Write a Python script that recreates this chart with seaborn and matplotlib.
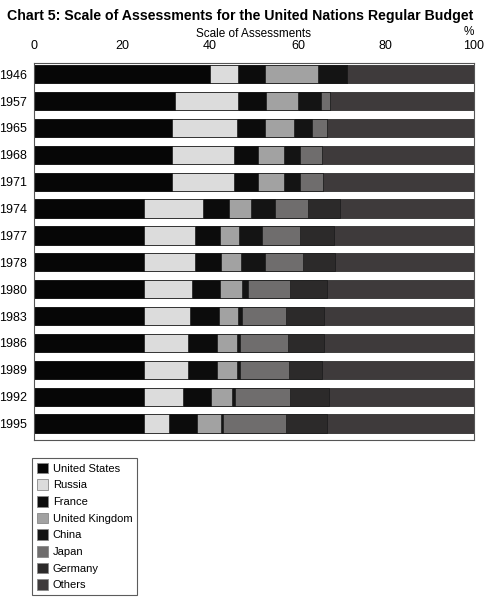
import numpy as np
import pandas as pd
import matplotlib
matplotlib.use("Agg")
import matplotlib.pyplot as plt
from matplotlib.patches import Patch
import seaborn as sns

years = ["1946", "1957", "1965", "1968", "1971", "1974", "1977",
         "1978", "1980", "1983", "1986", "1989", "1992", "1995"]
countries = ["United States", "Russia", "France", "United Kingdom",
             "China", "Japan", "Germany", "Others"]

# shares in % (Others = remainder to 100)
united_states = [39.9, 32.1, 31.3, 31.3, 31.3, 25.0, 25.0, 25.0, 25.0, 25.0, 25.0, 25.0, 25.0, 25.0]
russia = [6.4, 14.3, 14.9, 14.1, 14.1, 13.5, 11.5, 11.7, 11.0, 10.4, 10.1, 10.1, 8.8, 5.7]
france = [6.3, 6.3, 6.3, 5.6, 5.6, 5.8, 5.8, 5.8, 6.3, 6.6, 6.6, 6.4, 6.5, 6.3]
united_kingdom = [12.0, 7.3, 6.7, 5.9, 5.9, 5.0, 4.3, 4.5, 4.9, 4.4, 4.4, 4.7, 4.6, 5.4]
china = [6.6, 5.3, 4.1, 3.5, 3.5, 5.6, 5.3, 5.6, 1.4, 1.0, 0.8, 0.7, 0.7, 0.6]
japan = [0.0, 1.9, 3.3, 5.0, 5.3, 7.4, 8.6, 8.6, 9.5, 10.0, 10.9, 11.0, 12.5, 14.2]
germany = [0.0, 0.0, 0.0, 0.0, 0.0, 7.2, 7.6, 7.3, 8.5, 8.6, 8.1, 7.6, 8.9, 9.3]

colors = ["#060606", "#dcdcdc", "#0c0c0c", "#a2a2a2",
          "#141414", "#6f6d6d", "#2c2a2a", "#3e3a3b"]

df = pd.DataFrame({
    "year": years,
    "United States": united_states,
    "Russia": russia,
    "France": france,
    "United Kingdom": united_kingdom,
    "China": china,
    "Japan": japan,
    "Germany": germany,
})
df["Others"] = 100 - df[countries[:-1]].sum(axis=1)

cum = df[countries].cumsum(axis=1)

sns.set_style("white")
plt.rcParams['font.family'] = ['Liberation Sans', 'DejaVu Sans']
plt.rcParams['text.color'] = 'black'
plt.rcParams['axes.labelcolor'] = 'black'
plt.rcParams['xtick.color'] = 'black'
plt.rcParams['ytick.color'] = 'black'

fig = plt.figure(figsize=(4.86, 5.99), dpi=100)
ax = fig.add_axes([0.070, 0.265, 0.905, 0.630])

# stacked bars: draw cumulative totals from back (Others) to front (US)
for c, col in reversed(list(zip(countries, colors))):
    sns.barplot(x=cum[c], y=df["year"], orient="h", color=col, ax=ax,
                width=0.68, saturation=1, edgecolor="#1a1a1a", linewidth=0.5)

ax.set_xlim(0, 100)
ax.set_ylim(13.62, -0.42)
ax.xaxis.tick_top()
ax.xaxis.set_label_position("top")
ax.set_xticks([0, 20, 40, 60, 80, 100])
ax.set_xlabel("Scale of Assessments", fontsize=8.5)
ax.xaxis.set_label_coords(0.5, 1.068)
ax.set_ylabel("")
ax.tick_params(axis="x", length=0, pad=7.5, labelsize=9)
ax.tick_params(axis="y", length=0, pad=5, labelsize=9)
for s in ax.spines.values():
    s.set_color("#555555")
    s.set_linewidth(0.8)

fig.text(0.975, 0.937, "%", ha="right", va="bottom", fontsize=8.5)
fig.text(0.014, 0.974, "Chart 5: Scale of Assessments for the United Nations Regular Budget",
         ha="left", va="center", fontsize=10.2, fontweight="bold")

handles = [Patch(facecolor=col, edgecolor="#888888", linewidth=0.6, label=c)
           for c, col in zip(countries, colors)]
leg = fig.legend(handles=handles, loc="upper left", bbox_to_anchor=(0.066, 0.236),
                 frameon=True, fancybox=False, fontsize=8, handlelength=1.0,
                 handleheight=1.1, handletextpad=0.4, labelspacing=0.5,
                 borderpad=0.45, borderaxespad=0)
leg.get_frame().set_edgecolor("#333333")
leg.get_frame().set_linewidth(0.8)

fig.savefig("out.png", dpi=100)
